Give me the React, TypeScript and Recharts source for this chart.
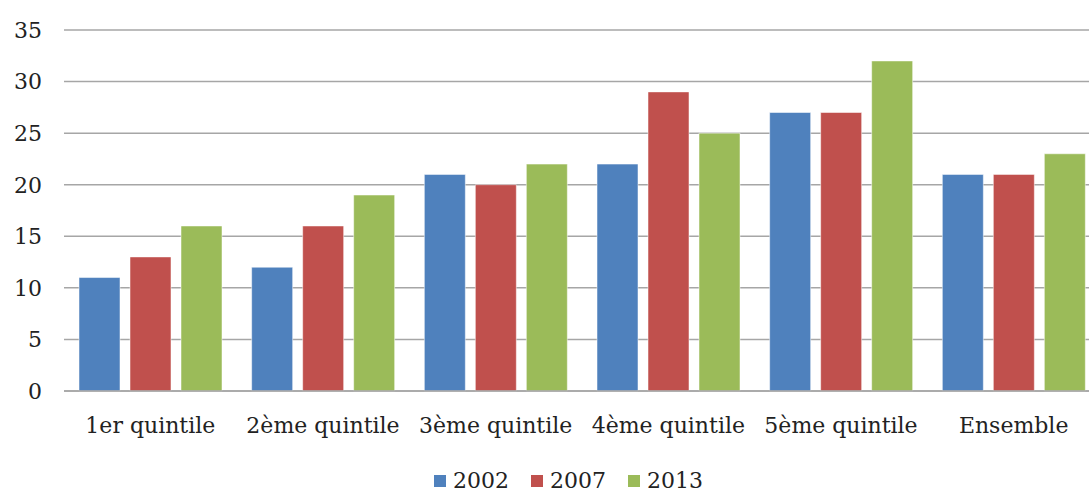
import { BarChart, Bar, XAxis, YAxis, CartesianGrid, Legend } from 'recharts';

const categories = ['1er quintile', '2ème quintile', '3ème quintile', '4ème quintile', '5ème quintile', 'Ensemble'];
const v2002 = [11, 12, 21, 22, 27, 21];
const v2007 = [13, 16, 20, 29, 27, 21];
const v2013 = [16, 19, 22, 25, 32, 23];
const yTicks = [0, 5, 10, 15, 20, 25, 30, 35];

const series = [
  { key: 'y2002', name: '2002', color: '#4F81BD' },
  { key: 'y2007', name: '2007', color: '#C0504D' },
  { key: 'y2013', name: '2013', color: '#9BBB59' },
];

const data = categories.map((c, i) => ({ cat: c, y2002: v2002[i], y2007: v2007[i], y2013: v2013[i] }));

const FONT = 'DejaVu Serif';

function LegendBox() {
  return (
    <div style={{ display: 'flex', justifyContent: 'center', paddingLeft: 48, fontFamily: FONT, fontSize: 22, lineHeight: '26px', color: '#222' }}>
      {series.map(s => (
        <div key={s.key} style={{ display: 'flex', alignItems: 'center', margin: '0 11px' }}>
          <span style={{ width: 12, height: 12, background: s.color, display: 'inline-block', marginRight: 7 }} />
          <span>{s.name}</span>
        </div>
      ))}
    </div>
  );
}

export default function App() {
  return (
    <div style={{ position: 'absolute', left: 0, top: 0, width: 1089, height: 492, overflow: 'hidden', background: '#fff' }}>
      <BarChart width={1100} height={492} data={data} margin={{ top: 30, right: 0, left: 0, bottom: 0 }}
        barCategoryGap={15} barGap={10}>
        <CartesianGrid horizontal vertical={false} stroke="#A6A6A6" strokeWidth={1.5} />
        <XAxis dataKey="cat" height={71} axisLine={{ stroke: '#A6A6A6', strokeWidth: 1.5 }} tickLine={false}
          tickMargin={20} interval={0} tick={{ fill: '#222', fontSize: 22, fontFamily: FONT }} />
        <YAxis domain={[0, 35]} ticks={yTicks} width={64} axisLine={false} tickLine={false} tickMargin={16}
          tick={{ fill: '#222', fontSize: 22, fontFamily: FONT }} />
        <Legend verticalAlign="bottom" height={30} wrapperStyle={{ left: 0, width: 1089, bottom: 0, top: 468 }} content={() => <LegendBox />} />
        {series.map(s => (
          <Bar key={s.key} dataKey={s.key} name={s.name} fill={s.color} stroke="#ffffff" strokeOpacity={0.5}
            isAnimationActive={false} />
        ))}
      </BarChart>
    </div>
  );
}
